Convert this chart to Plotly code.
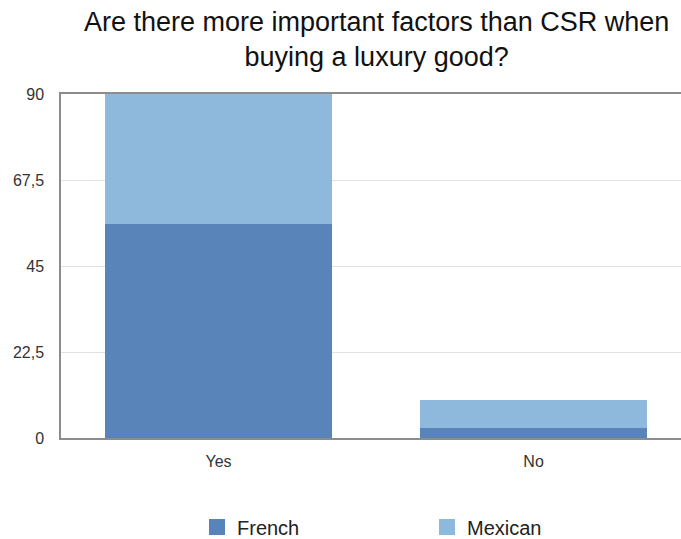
import plotly.graph_objects as go

categories = ["Yes", "No"]
french = [56, 2.5]
mexican = [34, 7.5]
y_tickvals = [0, 22.5, 45, 67.5, 90]
y_ticktext = ["0", "22,5", "45", "67,5", "90"]
title_text = "Are there more important factors than CSR when<br>buying a luxury good?"

FRENCH_C = "#5884b9"
MEXICAN_C = "#8eb8dc"
FONT = "Liberation Sans, Arial, sans-serif"

fig = go.Figure()
fig.add_trace(go.Bar(x=categories, y=french, name="French", marker=dict(color=FRENCH_C, line=dict(width=0)), showlegend=False))
fig.add_trace(go.Bar(x=categories, y=mexican, name="Mexican", marker=dict(color=MEXICAN_C, line=dict(width=0)), showlegend=False))
# legend swatches
fig.add_trace(go.Scatter(x=[None], y=[None], mode="markers", name="French",
                         marker=dict(symbol="square", size=23, color=FRENCH_C)))
fig.add_trace(go.Scatter(x=[None], y=[None], mode="markers", name="Mexican",
                         marker=dict(symbol="square", size=23, color=MEXICAN_C)))

fig.add_annotation(text=title_text, xref="paper", yref="paper", x=(376 - 61) / 620, y=(438 - 40) / 344,
                   xanchor="center", yanchor="middle", showarrow=False, align="center",
                   font=dict(size=27, color="#111111", family=FONT))

fig.update_layout(
    width=681, height=539,
    barmode="stack", bargap=0.282,
    margin=dict(l=61, r=0, t=94, b=101, autoexpand=False),
    plot_bgcolor="white", paper_bgcolor="white",
    font=dict(family=FONT, color="#222222"),
    legend=dict(orientation="h", x=(427 - 61) / 620, xanchor="center", y=(438 - 527) / 344, yanchor="middle",
                font=dict(size=20, color="#222222"), itemsizing="trace", entrywidth=185,
                traceorder="normal"),
    xaxis=dict(range=[-0.5, 1.468], showline=True, linecolor="#8c8c8c", linewidth=1.5, mirror=True,
               showgrid=False, tickfont=dict(size=16, color="#333333"), ticks="", ticklabelstandoff=8,
               fixedrange=True),
    yaxis=dict(range=[0, 90], tickvals=y_tickvals, ticktext=y_ticktext, showline=True,
               linecolor="#8c8c8c", linewidth=1.5, showgrid=True, gridcolor="#e2e2e2", gridwidth=1,
               zeroline=False, tickfont=dict(size=16, color="#333333"), ticks="", ticklabelstandoff=12,
               fixedrange=True),
)

fig.write_html("out.html")
